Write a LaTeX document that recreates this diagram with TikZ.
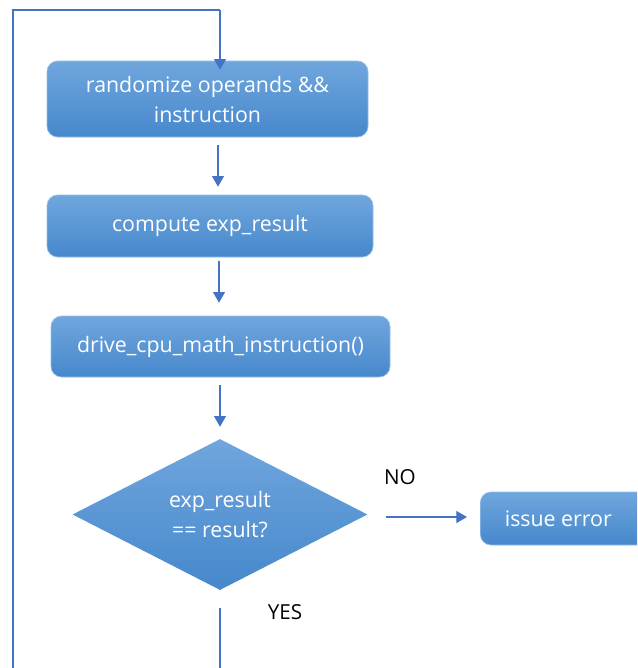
\documentclass[tikz,border=0pt]{standalone}
\usepackage{fontspec}
\setmainfont{Open Sans}
\usetikzlibrary{shapes.geometric,arrows.meta}
\definecolor{boxtop}{RGB}{112,166,221}
\definecolor{boxbot}{RGB}{70,136,204}
\definecolor{boxedge}{RGB}{150,190,230}
\definecolor{linecol}{RGB}{68,114,196}
\tikzset{
  flowbox/.style={rectangle, rounded corners=8pt, top color=boxtop, bottom color=boxbot,
    draw=boxedge, line width=0.5pt, text=white, font=\fontsize{16}{22.5}\selectfont, align=center, inner sep=0pt},
  decbox/.style={diamond, top color=boxtop, bottom color=boxbot, draw=none, text=white,
    font=\fontsize{16}{22.5}\selectfont, align=center, inner sep=0pt},
  conn/.style={draw=linecol, line width=0.8pt},
  arr/.style={conn, -{Triangle[length=8pt,width=9pt]}},
  lbl/.style={font=\fontsize{15.5}{18}\selectfont, text=black}
}
\begin{document}
\begin{tikzpicture}[x=0.75pt,y=-0.75pt]
\useasboundingbox (0,0) rectangle (637,668);
\clip (0,0) rectangle (637,668);
\fill[white] (0,0) rectangle (637,668);
\node[flowbox, minimum width=321*0.75pt, minimum height=76*0.75pt] (b1) at (207.5,99) {randomize operands \&\&\\instruction};
\node[flowbox, minimum width=326*0.75pt, minimum height=62*0.75pt] (b2) at (210,226) {compute exp\_result};
\node[flowbox, minimum width=339*0.75pt, minimum height=61*0.75pt] (b3) at (220.5,346.5) {drive\_cpu\_math\_instruction()};
\node[decbox, minimum width=295*0.75pt, minimum height=151*0.75pt] (d) at (220,514.5) {exp\_result\\== result?};
\node[flowbox, anchor=west, minimum width=180*0.75pt, minimum height=53*0.75pt] (err) at (480,518.5) {\hspace*{-18pt}issue error};
\node[lbl] (no) at (400,477) {NO};
\node[lbl] (yes) at (285,612) {YES};
\coordinate (topR) at (220,10);
\coordinate (topL) at (13,10);
\coordinate (botL) at (13,680);
\coordinate (yesS) at (220,608);
\coordinate (yesE) at (220,680);
\draw[conn] (botL) -- (topL) -- (topR);
\draw[arr] (topR) -- ([yshift=-9*0.75pt]b1.north -| topR);
\draw[arr] ([yshift=-8*0.75pt]b1.south -| 218,0) -- ([yshift=8*0.75pt]b2.north -| 218,0);
\draw[arr] ([yshift=-4*0.75pt]b2.south -| 219,0) -- ([yshift=13*0.75pt]b3.north -| 219,0);
\draw[arr] ([yshift=-8*0.75pt]b3.south -| 220,0) -- ([yshift=12*0.75pt]d.north);
\draw[arr] ([xshift=18*0.75pt]d.east |- 0,517) -- ([xshift=-13*0.75pt]err.west |- 0,517);
\draw[conn] (yesS) -- (yesE);
\end{tikzpicture}
\end{document}
